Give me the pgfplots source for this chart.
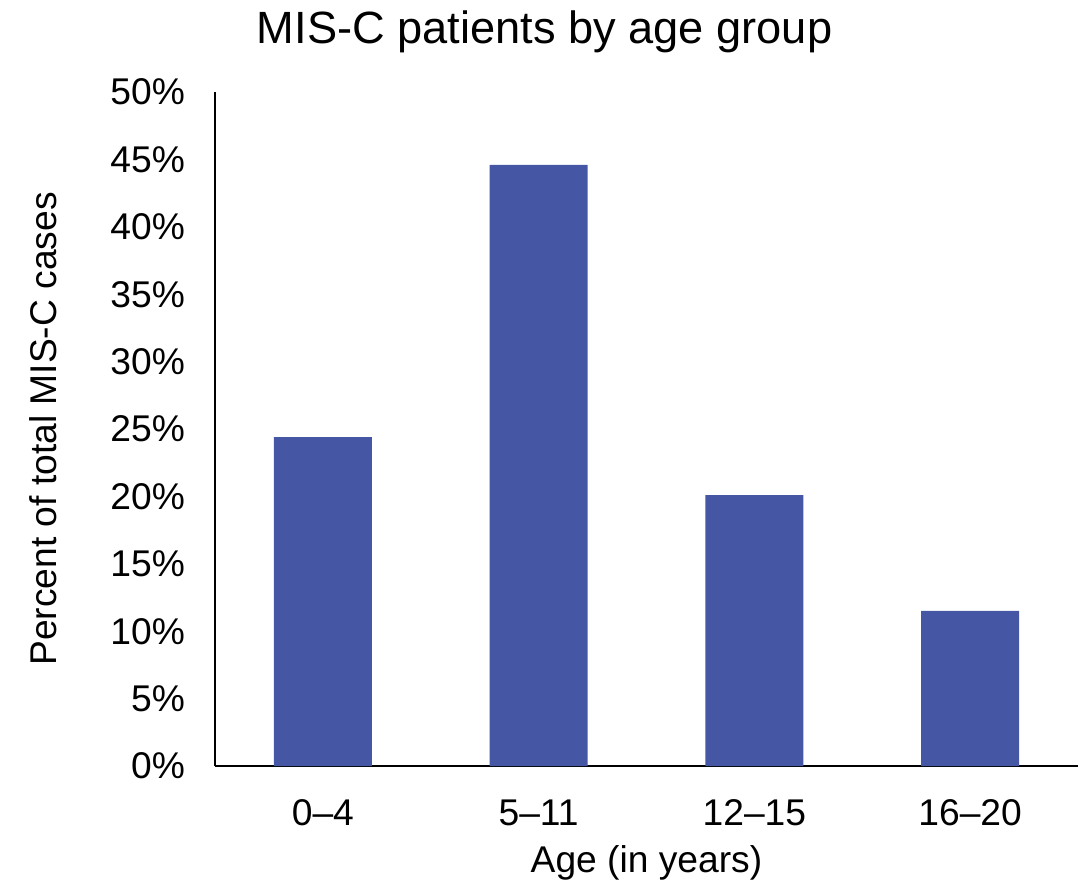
\documentclass[border=0pt]{standalone}
\usepackage{fontspec}
\setmainfont{Liberation Sans}
\usepackage{pgfplots}
\pgfplotsset{compat=1.18}
\definecolor{barblue}{HTML}{4556A5}

\begin{document}
\begin{tikzpicture}
\begin{axis}[
    name=ax,
    at={(0,0)}, anchor=south west,
    scale only axis,
    width=215.75pt, height=168.5pt,
    xmin=-0.5, xmax=3.5,
    ymin=0, ymax=50,
    ytick={0,5,...,50},
    yticklabel={\pgfmathprintnumber{\tick}\%},
    xtick={0,1,2,3},
    xticklabels={0--4,5--11,12--15,16--20},
    axis x line=bottom, axis y line=left,
    axis line style={line width=0.6pt, -},
    major tick length=0pt,
    tick label style={font=\fontsize{9.3}{11}\selectfont},
    /pgf/number format/assume math mode=true,
    yticklabel style={anchor=east, xshift=-4pt},
    xticklabel style={anchor=base, yshift=-14.75pt},
    xlabel={Age (in years)},
    ylabel={Percent of total MIS-C cases},
    label style={font=\fontsize{9.3}{11}\selectfont},
    xlabel style={at={(rel axis cs:0.5,0)}, anchor=center, yshift=-24.25pt},
    ylabel style={at={(axis description cs:-0.1993,0.5)}, anchor=center},
    title={MIS-C patients by age group},
    title style={font=\fontsize{11.3}{13}\selectfont, at={(rel axis cs:0.382,1)}, anchor=center, yshift=9pt},
    ybar, bar width=24.5pt,
    clip=false,
]
\addplot[fill=barblue, draw=none] coordinates {(0,24.4) (1,44.6) (2,20.1) (3,11.5)};
\end{axis}
\pgfresetboundingbox
\path[use as bounding box] (-53.75pt,-28.5pt) rectangle (218.5pt,191.5pt);
\end{tikzpicture}
\end{document}
